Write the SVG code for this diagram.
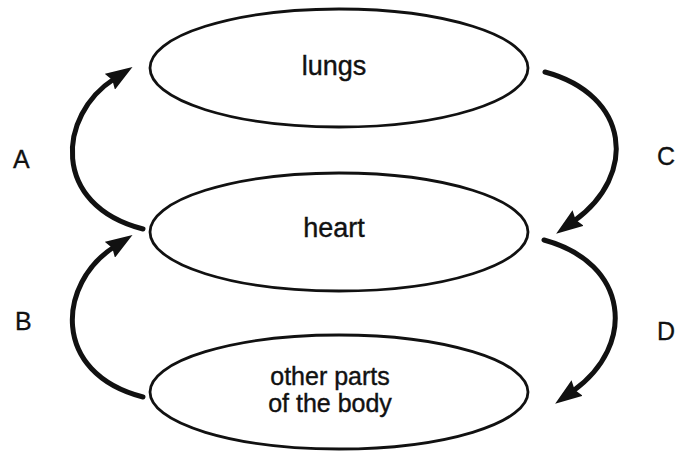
<svg xmlns="http://www.w3.org/2000/svg" width="677" height="453" viewBox="0 0 677 453">
  <style>
    .node ellipse { fill: #ffffff; stroke: #111111; stroke-width: 2.8; }
    .node text { font-family: "Liberation Sans", Arial, sans-serif; fill: #111111; stroke: #111111; stroke-width: 0.4; text-anchor: middle; }
    .conn path { fill: none; stroke: #111111; stroke-width: 5; stroke-linecap: round; }
    .lbl { font-family: "Liberation Sans", Arial, sans-serif; font-size: 25px; fill: #111111; stroke: #111111; stroke-width: 0.3; }
  </style>
  <defs>
    <marker id="ah" viewBox="0 0 27 19" refX="5" refY="9.5" markerWidth="27" markerHeight="19" markerUnits="userSpaceOnUse" orient="auto">
      <path d="M0,0 L27,9.5 L0,19 L3,9.5 z" fill="#111111"/>
    </marker>
  </defs>
  <rect width="677" height="453" fill="#ffffff"/>

  <g id="lungs" class="node">
    <ellipse cx="339" cy="68" rx="189" ry="59"/>
    <text x="334" y="75" font-size="27">lungs</text>
  </g>
  <g id="heart" class="node">
    <ellipse cx="339" cy="232" rx="189" ry="59"/>
    <text x="334" y="237" font-size="27">heart</text>
  </g>
  <g id="body" class="node">
    <ellipse cx="339" cy="392" rx="189" ry="57"/>
    <text x="330" y="385" font-size="25">other parts</text>
    <text x="330" y="412" font-size="25">of the body</text>
  </g>

  <g id="connectors" class="conn">
    <path d="M143,229 C50,205 58,115 114,79" marker-end="url(#ah)"/>
    <path d="M143,397 C50,373 58,283 114,247" marker-end="url(#ah)"/>
    <path d="M545,72 C630,95 638,175 574,221" marker-end="url(#ah)"/>
    <path d="M544,240 C629,263 637,345 573,391" marker-end="url(#ah)"/>
  </g>

  <g id="labels">
    <text class="lbl" x="13" y="168">A</text>
    <text class="lbl" x="15" y="330">B</text>
    <text class="lbl" x="657" y="165">C</text>
    <text class="lbl" x="657" y="340">D</text>
  </g>
</svg>
